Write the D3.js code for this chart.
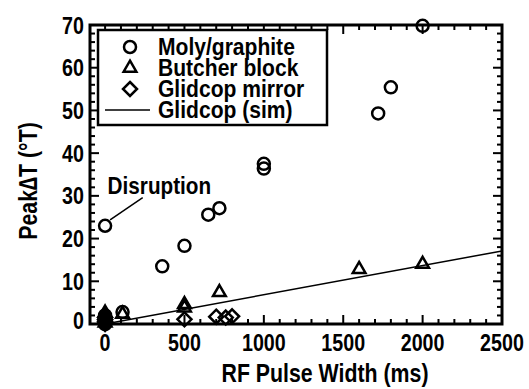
<!DOCTYPE html>
<html>
<head>
<meta charset="utf-8">
<script src="https://cdn.jsdelivr.net/npm/d3@7"></script>
<style>
  body { margin: 0; background: #fff; }
  svg text { font-family: "Liberation Sans", Arial, sans-serif; font-weight: bold; fill: #000; }
</style>
</head>
<body>
<svg id="chart"></svg>
<script>
// Moly/graphite (circles)
const molyX = [0, 0, 0, 0, 0, 0, 0, 110, 360, 500, 650, 720, 1000, 1000, 1720, 1800, 2000];
const molyY = [0, 0.4, 0.8, 1.2, 1.6, 2.0, 23, 2.8, 13.5, 18.3, 25.6, 27.1, 37.5, 36.4, 49.3, 55.4, 69.8];
// Butcher block (triangles)
const butcherX = [0, 0, 0, 0, 0, 110, 500, 500, 720, 1600, 2000];
const butcherY = [0.3, 0.9, 1.5, 2.1, 2.6, 2.3, 4.6, 3.8, 7.4, 12.8, 14];
// Glidcop mirror (diamonds)
const mirrorX = [0, 0, 0, 0, 500, 700, 760, 800];
const mirrorY = [0, 0.5, 1, 1.5, 1.1, 1.7, 1.5, 1.8];
// Glidcop (sim) line
const simX = [0, 2500];
const simY = [0, 17.1];

const xTicks = [0, 500, 1000, 1500, 2000, 2500];
const yTicks = [0, 10, 20, 30, 40, 50, 60, 70];

const width = 529;
const height = 389;
const margin = { top: 25, right: 27, bottom: 65, left: 90 };
const squeeze = 0.82;

const svg = d3.select("#chart")
    .attr("width", width)
    .attr("height", height);

const x = d3.scaleLinear().domain([-95, 2500]).range([margin.left, width - margin.right]);
const y = d3.scaleLinear().domain([0, 70]).range([height - margin.bottom, margin.top]);

const x0 = x.range()[0], x1 = x.range()[1];
const y0 = y.range()[0], y1 = y.range()[1];

//condensed bold text
function label(parent, tx, ty, str, size, anchor, rot, sx) {
    return parent.append("text")
        .attr("transform", `translate(${tx},${ty})${rot ? " rotate(" + rot + ")" : ""} scale(${sx || squeeze},1)`)
        .attr("text-anchor", anchor || "start")
        .attr("font-size", size)
        .text(str);
}

//ticks, inward on all sides
const g = svg.append("g").attr("stroke", "#000").attr("stroke-width", 2);
d3.range(0, 2501, 100).forEach(v => {
    const len = v % 500 === 0 ? 9 : 5;
    g.append("line").attr("x1", x(v)).attr("x2", x(v)).attr("y1", y0).attr("y2", y0 - len);
    g.append("line").attr("x1", x(v)).attr("x2", x(v)).attr("y1", y1).attr("y2", y1 + len);
});
d3.range(0, 71, 2).forEach(v => {
    const len = v % 10 === 0 ? 9 : 5;
    g.append("line").attr("y1", y(v)).attr("y2", y(v)).attr("x1", x0).attr("x2", x0 + len);
    g.append("line").attr("y1", y(v)).attr("y2", y(v)).attr("x1", x1).attr("x2", x1 - len);
});

//frame
svg.append("rect")
    .attr("x", x0).attr("y", y1)
    .attr("width", x1 - x0).attr("height", y0 - y1)
    .attr("fill", "none").attr("stroke", "#000").attr("stroke-width", 3);

//tick labels
xTicks.forEach(d => label(svg, x(d), y0 + 27, d, 24, "middle"));
yTicks.forEach(d => label(svg, x0 - 6, y(d) + 8.5 - (d === 0 ? 4 : 0), d, 24, "end"));

//axis titles
label(svg, 325, 382, "RF Pulse Width (ms)", 26, "middle");
label(svg, 37, 181, "Peak\u2206T (\u00b0T)", 26, "middle", -90);

//sim line
const line = d3.line().x(d => x(d[0])).y(d => y(d[1]));
svg.append("path")
    .datum(d3.zip(simX, simY))
    .attr("d", line)
    .attr("fill", "none")
    .attr("stroke", "#000")
    .attr("stroke-width", 1.5);

//markers
const marks = svg.append("g")
    .attr("fill", "none")
    .attr("stroke", "#000")
    .attr("stroke-width", 2.5);

const triPath = d3.symbol().type(d3.symbolTriangle).size(70)();
const diaPath = "M0,-7L7,0L0,7L-7,0Z";

marks.selectAll(".moly")
    .data(d3.zip(molyX, molyY))
    .enter()
    .append("circle")
    .attr("cx", d => x(d[0]))
    .attr("cy", d => y(d[1]))
    .attr("r", 6);

marks.selectAll(".butcher")
    .data(d3.zip(butcherX, butcherY))
    .enter()
    .append("path")
    .attr("d", triPath)
    .attr("transform", d => `translate(${x(d[0])},${y(d[1])})`);

marks.selectAll(".mirror")
    .data(d3.zip(mirrorX, mirrorY))
    .enter()
    .append("path")
    .attr("d", diaPath)
    .attr("transform", d => `translate(${x(d[0])},${y(d[1])})`);

//annotation
svg.append("line")
    .attr("x1", x(0) + 5).attr("y1", y(23) - 6)
    .attr("x2", x(237)).attr("y2", y(29.6))
    .attr("stroke", "#000").attr("stroke-width", 1.5);

label(svg, x(16), y(30.5), "Disruption", 23, "start", null, 0.9);

//legend
const legendNames = ["Moly/graphite", "Butcher block", "Glidcop mirror", "Glidcop (sim)"];
const lg = svg.append("g");
lg.append("rect")
    .attr("x", 98).attr("y", 30)
    .attr("width", 229).attr("height", 95)
    .attr("fill", "#fff").attr("stroke", "#000").attr("stroke-width", 2.5);

legendNames.forEach((name, i) => {
    const ly = 47 + i * 21;
    if (i === 0) {
        lg.append("circle").attr("cx", 130).attr("cy", ly).attr("r", 6)
            .attr("fill", "none").attr("stroke", "#000").attr("stroke-width", 2.5);
    } else if (i === 1) {
        lg.append("path").attr("d", triPath).attr("transform", `translate(130,${ly})`)
            .attr("fill", "none").attr("stroke", "#000").attr("stroke-width", 2.5);
    } else if (i === 2) {
        lg.append("path").attr("d", diaPath).attr("transform", `translate(130,${ly})`)
            .attr("fill", "none").attr("stroke", "#000").attr("stroke-width", 2.5);
    } else {
        lg.append("line").attr("x1", 105).attr("x2", 150).attr("y1", ly).attr("y2", ly)
            .attr("stroke", "#000").attr("stroke-width", 1.5);
    }
    label(lg, 158, ly + 8, name, 24.5, "start", null, 0.86);
});
</script>
</body>
</html>
